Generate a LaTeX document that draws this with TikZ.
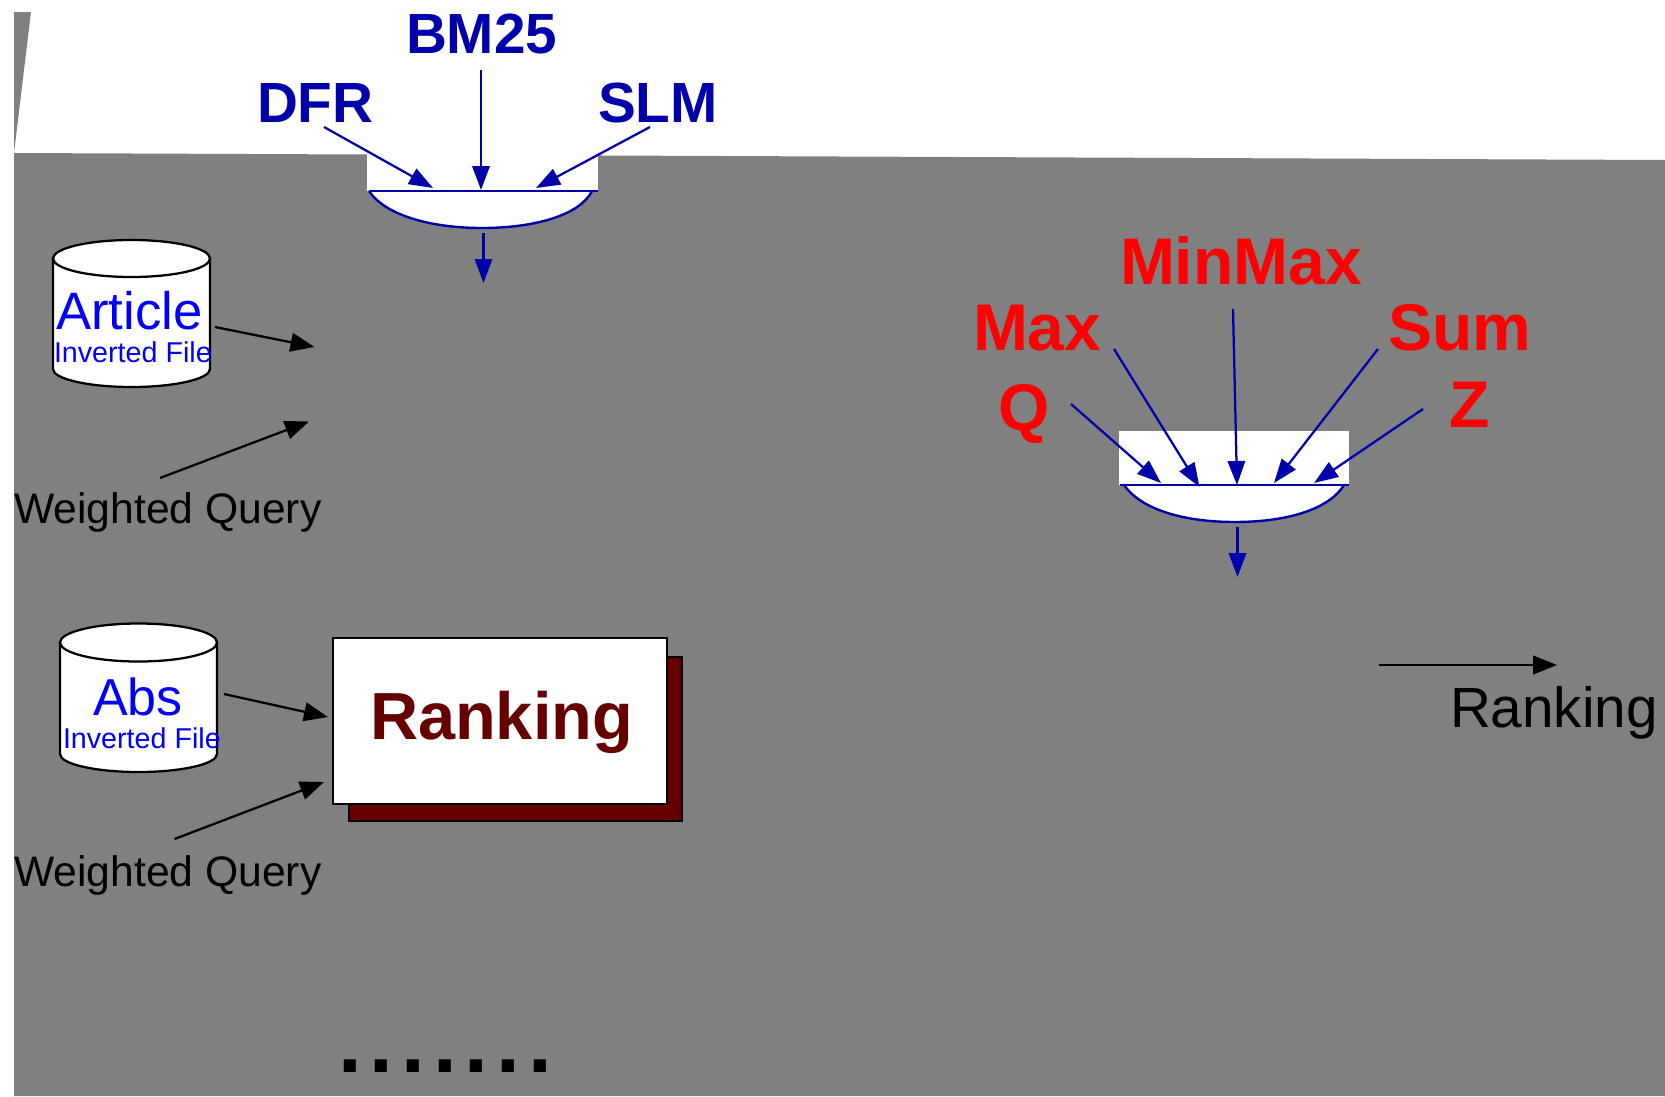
\documentclass[tikz,border=0pt]{standalone}
\usepackage{fontspec}
\setmainfont{Liberation Sans}
\usetikzlibrary{arrows.meta}
\definecolor{bgray}{HTML}{808080}
\definecolor{gblue}{HTML}{0000AA}
\definecolor{tblue}{HTML}{0000FF}
\definecolor{maroon}{HTML}{660000}
\definecolor{rred}{HTML}{FF0000}
\newcommand{\fs}[1]{\fontsize{#1}{#1}\selectfont}
\tikzset{
  x=0.75pt,y=-0.75pt,
  lbl/.style={anchor=base west,inner sep=0pt,outer sep=0pt},
  bluebig/.style={lbl,text=gblue,font=\fs{42.5}\bfseries},
  redbig/.style={lbl,text=rred,font=\fs{49.5}\bfseries},
  blueconn/.style={draw=gblue,line width=1.7pt,-{Triangle[length=18pt,width=13pt]}},
  blackconn/.style={draw=black,line width=1.7pt,-{Triangle[length=18pt,width=14pt]}},
  wq/.style={lbl,text=black,font=\fs{32}},
  dbmain/.style={lbl,text=tblue,font=\fs{39.5}},
  absmain/.style={lbl,text=tblue,font=\fs{39}},
  dbsub/.style={lbl,text=tblue,font=\fs{21.5}},
  gateline/.style={draw=gblue,line width=1.8pt},
  cyl/.style={draw=black,line width=1.7pt,fill=white},
}
\begin{document}
\begin{tikzpicture}
\useasboundingbox (0,0) rectangle (1665,1096);
% background
\fill[white] (0,0) rectangle (1665,1096);
\fill[bgray] (14,153) -- (1665,160) -- (1665,1096) -- (14,1096) -- cycle;
\fill[bgray] (14,12) -- (31,12) -- (14,153) -- cycle;

% left gate
\fill[white] (367,154) rectangle (598,191);
\draw[gateline,fill=white] (369,191) .. controls (385,215) and (430,228) .. (482,228) .. controls (535,228) and (580,215) .. (592,191);
\draw[gateline] (369,191) -- (598,191);
\coordinate (gateLdfr) at (433,188);
\coordinate (gateLbm) at (481,190);
\coordinate (gateLslm) at (536,188);
\coordinate (gateLoutA) at (483.5,233);
\coordinate (gateLoutB) at (483.5,283);
\node[bluebig] (bm) at (406,53) {BM25};
\node[bluebig] (dfr) at (257,122) {DFR};
\node[bluebig] (slm) at (598,122) {SLM};
\coordinate (dfrS) at (324,127);
\coordinate (bmS) at (481,70);
\coordinate (slmS) at (650,127);
\draw[blueconn] (dfrS) -- (gateLdfr);
\draw[blueconn] (bmS) -- (gateLbm);
\draw[blueconn] (slmS) -- (gateLslm);
\draw[blueconn] (gateLoutA) -- (gateLoutB);

% article cylinder
\draw[cyl] (53,258) -- (53,369) arc[start angle=180,end angle=0,x radius=78.5,y radius=18] -- (210,258) -- cycle;
\draw[cyl] (131.5,258.5) ellipse[x radius=78.5,y radius=18.5];
\node[dbmain] (article) at (56,329) {Article};
\node[dbsub] (articlesub) at (54,362) {Inverted File};
\coordinate (artS) at (215,327);
\coordinate (artE) at (314.5,347);
\draw[blackconn] (artS) -- (artE);
\node[wq] (wq1) at (14,523) {Weighted Query};
\coordinate (wq1S) at (160,478);
\coordinate (wq1E) at (309,421.5);
\draw[blackconn] (wq1S) -- (wq1E);

% abs cylinder
\draw[cyl] (60,642) -- (60,754) arc[start angle=180,end angle=0,x radius=78.5,y radius=18] -- (217,642) -- cycle;
\draw[cyl] (138.5,642.5) ellipse[x radius=78.5,y radius=19];
\node[absmain] (abs) at (93,715) {Abs};
\node[dbsub] (abssub) at (63,748) {Inverted File};
\coordinate (absS) at (224,694);
\coordinate (absE) at (328,717);
\draw[blackconn] (absS) -- (absE);
\node[wq] (wq2) at (14,886) {Weighted Query};
\coordinate (wq2S) at (174.5,839);
\coordinate (wq2E) at (324,782);
\draw[blackconn] (wq2S) -- (wq2E);

% ranking box
\draw[fill=maroon,draw=black,line width=1.7pt] (349,657) rectangle (682,821);
\draw[fill=white,draw=black,line width=1.7pt] (333,638) rectangle (667,804);
\node[lbl,text=maroon,font=\fs{50}\bfseries] (rank) at (370,739) {Ranking};

% dots
\node[lbl,text=black,font=\fs{64}\bfseries] (dots) at (338,1072) {.\kern6pt.\kern6pt.\kern6pt.\kern6pt.\kern6pt.\kern6pt.};

% right gate
\fill[white] (1119,431) rectangle (1349,485);
\draw[gateline,fill=white] (1124,485) .. controls (1140,508) and (1180,522) .. (1235,522) .. controls (1290,522) and (1330,508) .. (1344,485);
\draw[gateline] (1120,485) -- (1349,485);
\node[redbig] (minmax) at (1120,284) {MinMax};
\node[redbig] (max) at (973,350) {Max};
\node[redbig] (sum) at (1388,350) {Sum};
\node[redbig] (q) at (998,430) {Q};
\node[redbig] (z) at (1449,427) {Z};
\coordinate (mmS) at (1233,309);
\coordinate (mmE) at (1237,485);
\coordinate (maxS) at (1114,349);
\coordinate (maxE) at (1199.5,487);
\coordinate (sumS) at (1378,349);
\coordinate (sumE) at (1274,483);
\coordinate (qS) at (1071,404);
\coordinate (qE) at (1161,483);
\coordinate (zS) at (1423,409);
\coordinate (zE) at (1314,483);
\coordinate (gateRoutA) at (1237.5,527);
\coordinate (gateRoutB) at (1237.5,577);
\draw[blueconn] (mmS) -- (mmE);
\draw[blueconn] (maxS) -- (maxE);
\draw[blueconn] (sumS) -- (sumE);
\draw[blueconn] (qS) -- (qE);
\draw[blueconn] (zS) -- (zE);
\draw[blueconn] (gateRoutA) -- (gateRoutB);

% right ranking
\coordinate (rrS) at (1379,665);
\coordinate (rrE) at (1557,665);
\draw[blackconn] (rrS) -- (rrE);
\node[lbl,text=black,font=\fs{42.5}] (rr) at (1450,727) {Ranking};
\end{tikzpicture}
\end{document}
